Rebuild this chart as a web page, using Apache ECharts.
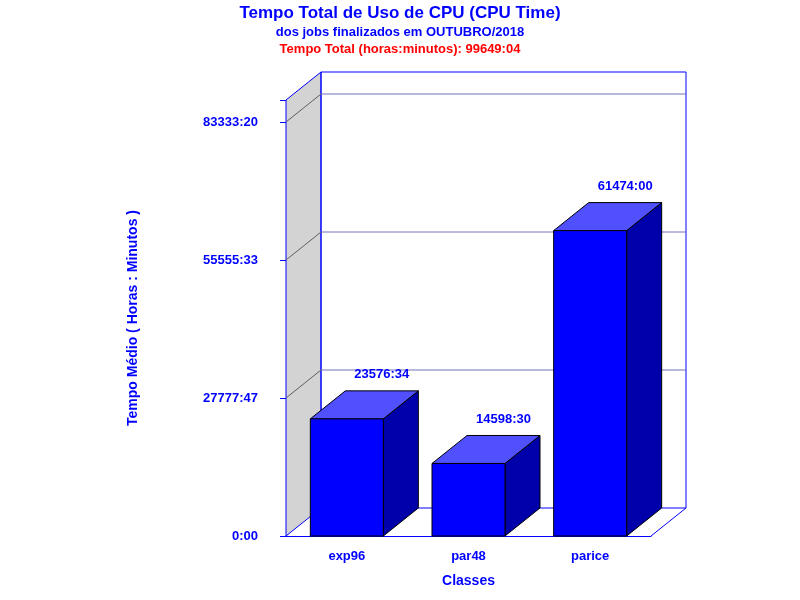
<!DOCTYPE html>
<html><head><meta charset="utf-8">
<script src="https://cdn.jsdelivr.net/npm/echarts@6/dist/echarts.min.js"></script>
<style>html,body{margin:0;background:#fff}#c{width:800px;height:600px}</style>
</head><body><div id="c"></div>
<script>
const categories = ['exp96','par48','parice'];
const values = [23576 + 34/60, 14598 + 30/60, 61474];
const valueLabels = ['23576:34','14598:30','61474:00'];
const tickStep = 83333.333/3;
const yMax = 87763;
const DX = 35, DY = -28;
function fmt(h){const H=Math.floor(h+1e-6);const M=Math.round((h-H)*60);return H+':'+String(M).padStart(2,'0');}
const chart = echarts.init(document.getElementById('c'));
chart.setOption({
  animation:false,
  title:[
    {text:'Tempo Total de Uso de CPU (CPU Time)',left:'center',top:0,textStyle:{color:'#0000ff',fontSize:17,fontWeight:'bold',fontFamily:'Liberation Sans'}},
    {text:'dos jobs finalizados em OUTUBRO/2018',left:'center',top:21,textStyle:{color:'#0000ff',fontSize:13,fontWeight:'bold',fontFamily:'Liberation Sans'}},
    {text:'Tempo Total (horas:minutos): 99649:04',left:'center',top:38,textStyle:{color:'#ff0000',fontSize:13,fontWeight:'bold',fontFamily:'Liberation Sans'}}
  ],
  grid:{left:286,right:149,top:100,bottom:64},
  xAxis:{type:'category',data:categories,name:'Classes',nameLocation:'middle',nameGap:38,
    nameTextStyle:{color:'#0000ff',fontSize:14,fontWeight:'bold',fontFamily:'Liberation Sans'},
    axisLine:{lineStyle:{color:'#0000ff'}},axisTick:{show:false},
    axisLabel:{color:'#0000ff',fontWeight:'bold',fontSize:13,margin:14,fontFamily:'Liberation Sans'}},
  yAxis:{type:'value',min:0,max:yMax,interval:tickStep,name:'Tempo Médio ( Horas : Minutos )',nameLocation:'middle',nameGap:146,
    nameTextStyle:{color:'#0000ff',fontSize:14,fontWeight:'bold',fontFamily:'Liberation Sans'},
    axisLine:{show:true,lineStyle:{color:'#0000ff'}},axisTick:{show:true,length:6,lineStyle:{color:'#0000ff'}},
    splitLine:{show:false},
    axisLabel:{color:'#0000ff',fontWeight:'bold',fontSize:13,margin:28,fontFamily:'Liberation Sans',
      formatter:v=>v>yMax-1000?'':fmt(v)}},
  series:[
    {type:'custom',data:[[0,0]],z:1,renderItem:(params,api)=>{
      const cs=params.coordSys;const x0=cs.x,x1=cs.x+cs.width,y0=cs.y,y1=cs.y+cs.height;
      const ch=[];
      ch.push({type:'polygon',shape:{points:[[x0,y1],[x0+DX,y1+DY],[x0+DX,y0+DY],[x0,y0]]},style:{fill:'#d3d3d3',stroke:'#0000ff',lineWidth:1}});
      ch.push({type:'rect',shape:{x:x0+DX,y:y0+DY,width:cs.width,height:cs.height},style:{fill:'none',stroke:'#0000ff',lineWidth:1}});
      ch.push({type:'line',shape:{x1:x1,y1:y1,x2:x1+DX,y2:y1+DY},style:{stroke:'#0000ff',lineWidth:1}});
      for(let v=tickStep;v<yMax;v+=tickStep){
        const y=api.coord([0,v])[1];
        ch.push({type:'line',shape:{x1:x0,y1:y,x2:x0+DX,y2:y+DY},style:{stroke:'#606060',lineWidth:1}});
        ch.push({type:'line',shape:{x1:x0+DX,y1:y+DY,x2:x1+DX,y2:y+DY},style:{stroke:'#7070c0',lineWidth:1}});
      }
      return {type:'group',children:ch};
    }},
    {type:'custom',z:2,data:values.map((v,i)=>[i,v]),renderItem:(params,api)=>{
      const i=api.value(0),v=api.value(1);
      const top=api.coord([i,v]),bot=api.coord([i,0]);
      const w=api.size([1,0])[0]*0.6;
      const l=top[0]-w/2,r=top[0]+w/2,t=top[1],b=bot[1];
      const st={stroke:'#000',lineWidth:1};
      return {type:'group',children:[
        {type:'polygon',shape:{points:[[r,b],[r+DX,b+DY],[r+DX,t+DY],[r,t]]},style:Object.assign({fill:'#0000aa'},st)},
        {type:'polygon',shape:{points:[[l,t],[l+DX,t+DY],[r+DX,t+DY],[r,t]]},style:Object.assign({fill:'#5050ff'},st)},
        {type:'rect',shape:{x:l,y:t,width:w,height:b-t},style:Object.assign({fill:'#0000ff'},st)},
        {type:'text',x:top[0]+DX,y:t+DY-16,style:{text:valueLabels[i],fill:'#0000ff',font:'bold 13px Liberation Sans',align:'center',verticalAlign:'middle'}}
      ]};
    }}
  ]
});
</script></body></html>
